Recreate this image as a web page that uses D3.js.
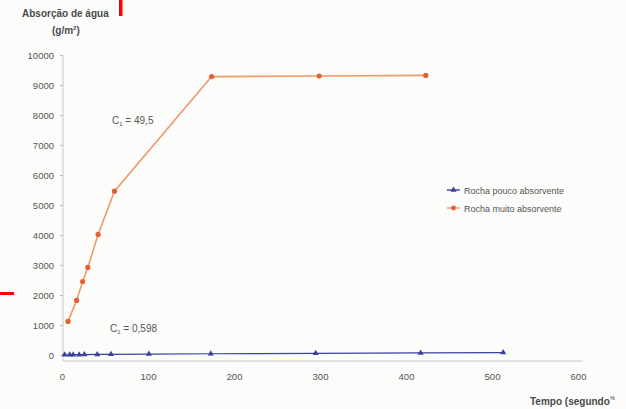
<!DOCTYPE html>
<html>
<head>
<meta charset="utf-8">
<script src="https://cdn.jsdelivr.net/npm/d3@7"></script>
<style>
  body { margin: 0; background: #fcfcfa; }
  svg { display: block; font-family: Arial, "Liberation Sans", sans-serif; }
</style>
</head>
<body>
<svg id="chart" width="626" height="409"></svg>
<script>
// values
const tempoMuito = [7, 17, 24, 30, 42, 61, 174, 299, 423];
const absMuito = [1120, 1820, 2450, 2920, 4020, 5460, 9280, 9300, 9320];

const tempoPouco = [3, 9, 13, 20, 26, 41, 57, 101, 173, 295, 417, 513];
const absPouco = [5, 8, 10, 12, 15, 18, 22, 30, 42, 55, 70, 80];

const xTicks = [0, 100, 200, 300, 400, 500, 600];
const yTicks = [0, 1000, 2000, 3000, 4000, 5000, 6000, 7000, 8000, 9000, 10000];

const seriesNames = ["Rocha pouco absorvente", "Rocha muito absorvente"];
const colors = { pouco: "#3b3f9e", muito: "#e4602f", muitoLine: "#ee9a6a" };

const svg = d3.select("#chart");
const textColor = "#555";

const x = d3.scaleLinear().domain([0, 600]).range([62, 578]);
const y = d3.scaleLinear().domain([0, 10000]).range([355, 55]);

// y axis
const yAxis = svg.append("g")
  .attr("transform", "translate(63,0)")
  .call(d3.axisLeft(y).tickValues(yTicks).tickSize(3).tickPadding(6).tickFormat(d3.format("d")));
yAxis.select(".domain").attr("stroke", "#c8c8c8").attr("d", "M0,55V361");
yAxis.selectAll(".tick line").attr("stroke", "#bbb");
yAxis.selectAll(".tick text").attr("fill", textColor).attr("font-size", 9.5);

// x axis (sits a little below the zero line)
const xAxis = svg.append("g")
  .attr("transform", "translate(0,361)")
  .call(d3.axisBottom(x).tickValues(xTicks).tickSize(0).tickPadding(12));
xAxis.select(".domain").attr("stroke", "#c8c8c8").attr("d", "M63,0H583");
xAxis.selectAll(".tick text").attr("fill", textColor).attr("font-size", 9.5);

// lines
const muito = tempoMuito.map((t, i) => [t, absMuito[i]]);
const pouco = tempoPouco.map((t, i) => [t, absPouco[i]]);
const line = d3.line().x(d => x(d[0])).y(d => y(d[1]));

svg.append("path").datum(muito)
  .attr("fill", "none").attr("stroke", colors.muitoLine).attr("stroke-width", 1.6)
  .attr("d", line);
svg.append("g").selectAll("circle").data(muito).join("circle")
  .attr("cx", d => x(d[0])).attr("cy", d => y(d[1])).attr("r", 2.6)
  .attr("fill", colors.muito);

svg.append("path").datum(pouco)
  .attr("fill", "none").attr("stroke", colors.pouco).attr("stroke-width", 1.2)
  .attr("d", line);
const tri = d3.symbol().type(d3.symbolTriangle).size(16);
svg.append("g").selectAll("path").data(pouco).join("path")
  .attr("transform", d => `translate(${x(d[0])},${y(d[1])})`)
  .attr("d", tri).attr("fill", colors.pouco);

// titles
svg.append("text").attr("x", 22).attr("y", 17)
  .attr("font-size", 10).attr("font-weight", "bold").attr("fill", "#4a4a4a")
  .text("Absorção de água");
const unit = svg.append("text").attr("x", 52).attr("y", 34)
  .attr("font-size", 10).attr("font-weight", "bold").attr("fill", "#4a4a4a");
unit.append("tspan").text("(g/m");
unit.append("tspan").attr("font-size", 6).attr("dy", -4).text("2");
unit.append("tspan").attr("dy", 4).text(")");

const xt = svg.append("text").attr("x", 530).attr("y", 405)
  .attr("font-size", 10).attr("font-weight", "bold").attr("fill", "#4a4a4a");
xt.append("tspan").text("Tempo (segundo");
xt.append("tspan").attr("font-size", 6).attr("dy", -5).text("½");

// C1 labels
function c1(xp, yp, val) {
  const t = svg.append("text").attr("x", xp).attr("y", yp)
    .attr("font-size", 10).attr("fill", textColor);
  t.append("tspan").text("C");
  t.append("tspan").attr("font-size", 6).attr("dy", 2).text("1");
  t.append("tspan").attr("dy", -2).text(" = " + val);
}
c1(112, 124, "49,5");
c1(110, 332, "0,598");

// legend
const legend = svg.append("g").attr("transform", "translate(447,190)");
const items = [
  { name: seriesNames[0], color: colors.pouco, kind: "tri" },
  { name: seriesNames[1], color: colors.muito, kind: "dot" }
];
items.forEach((it, i) => {
  const g = legend.append("g").attr("transform", `translate(0,${i * 18})`);
  g.append("line").attr("x1", 0).attr("x2", 13).attr("stroke", it.kind === "dot" ? colors.muitoLine : it.color).attr("stroke-width", 1.4);
  if (it.kind === "tri") g.append("path").attr("transform", "translate(6.5,0)").attr("d", tri).attr("fill", it.color);
  else g.append("circle").attr("cx", 6.5).attr("r", 2.4).attr("fill", it.color);
  g.append("text").attr("x", 17).attr("y", 3.5).attr("font-size", 9).attr("fill", textColor).text(it.name);
});

// red marks present on the original scan
svg.append("rect").attr("x", 119).attr("y", 0).attr("width", 3.5).attr("height", 16).attr("fill", "#ff0000");
svg.append("rect").attr("x", 0).attr("y", 292).attr("width", 14).attr("height", 3).attr("fill", "#ff0000");
</script>
</body>
</html>
